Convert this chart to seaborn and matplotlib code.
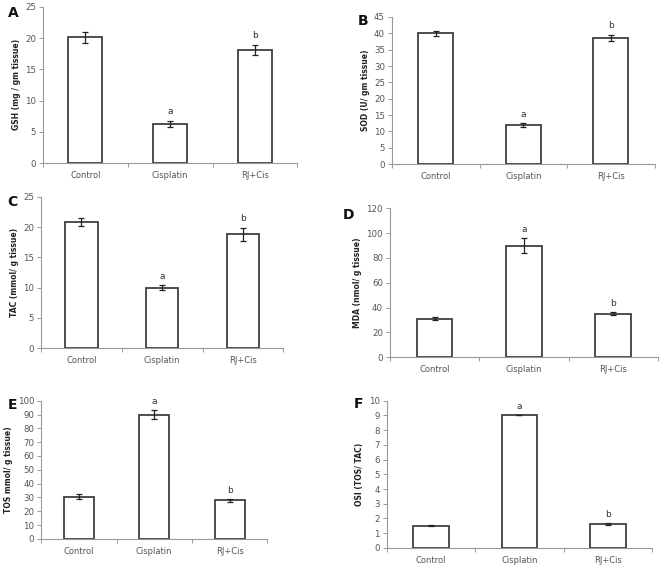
import pandas as pd
import seaborn as sns
import matplotlib.pyplot as plt

groups = ["Control", "Cisplatin", "RJ+Cis"]

gsh = [20.1, 6.3, 18.1]
gsh_err = [0.9, 0.5, 0.8]
sod = [40.0, 12.0, 38.6]
sod_err = [0.8, 0.6, 1.0]
tac = [20.9, 10.0, 18.8]
tac_err = [0.7, 0.4, 1.1]
mda = [31.0, 90.0, 35.0]
mda_err = [1.0, 6.0, 1.0]
tos = [30.5, 90.0, 28.0]
tos_err = [2.0, 3.5, 1.0]
osi = [1.5, 9.0, 1.6]
osi_err = [0.03, 0.0, 0.06]

sig_letters = ["", "a", "b"]

sns.set_style("white")
plt.rcParams['font.family'] = ['DejaVu Sans']

W, H = 662, 566
fig = plt.figure(figsize=(W / 100, H / 100), dpi=100)

# panel letter, y label, values, errors, y max, y step, axes rect, letter pos (px)
panels = [
    ("A", "GSH (mg / gm tissue)", gsh, gsh_err, 25, 5, [0.065, 0.712, 0.384, 0.276], (13, 13)),
    ("B", "SOD (U/ gm tissue)", sod, sod_err, 45, 5, [0.592, 0.710, 0.397, 0.260], (363, 21)),
    ("C", "TAC (mmol/ g tissue)", tac, tac_err, 25, 5, [0.062, 0.385, 0.366, 0.267], (12, 202)),
    ("D", "MDA (nmol/ g tissue)", mda, mda_err, 120, 20, [0.589, 0.369, 0.405, 0.263], (349, 215)),
    ("E", "TOS mmol/ g tissue)", tos, tos_err, 100, 10, [0.062, 0.048, 0.342, 0.244], (12, 405)),
    ("F", "OSI (TOS/ TAC)", osi, osi_err, 10, 1, [0.584, 0.032, 0.401, 0.260], (358, 404)),
]

edge = "#404040"
grey = "#555555"

for letter, ylab, vals, errs, ymax, step, rect, lpos in panels:
    ax = fig.add_axes(rect)
    df = pd.DataFrame({"group": groups, "value": vals})
    sns.barplot(data=df, x="group", y="value", ax=ax, color="white",
                edgecolor=edge, linewidth=1.3, width=0.4, errorbar=None)
    ax.errorbar(range(3), vals, yerr=errs, fmt="none", ecolor="#222222",
                elinewidth=0.9, capsize=2.5, capthick=0.9)
    for i, (v, e, s) in enumerate(zip(vals, errs, sig_letters)):
        if s:
            ax.text(i, v + e + ymax * 0.03, s, ha="center", va="bottom",
                    fontsize=6.5, color="#333333")
    ax.set_xlim(-0.5, 2.5)
    ax.set_ylim(0, ymax)
    ax.set_yticks(range(0, ymax + 1, step))
    ax.set_xlabel("")
    ax.set_ylabel(ylab, fontsize=5.5, fontweight="bold", color="#222222", labelpad=3)
    for sp in ["top", "right"]:
        ax.spines[sp].set_visible(False)
    for sp in ["left", "bottom"]:
        ax.spines[sp].set_color("#999999")
        ax.spines[sp].set_linewidth(0.8)
    ax.tick_params(axis="y", direction="out", length=3, width=0.7, color="#999999",
                   labelsize=6.2, labelcolor=grey, left=True, pad=2)
    ax.tick_params(axis="x", which="major", length=0, labelsize=6, labelcolor=grey, pad=6)
    ax.set_xticks([-0.5, 0.5, 1.5, 2.5], minor=True)
    ax.tick_params(axis="x", which="minor", direction="out", length=3, width=0.7,
                   color="#999999", bottom=True)
    fig.text(lpos[0] / W, 1 - lpos[1] / H, letter, fontsize=10,
             fontweight="bold", ha="center", va="center", color="#111111")

fig.savefig("out.png", dpi=100)
